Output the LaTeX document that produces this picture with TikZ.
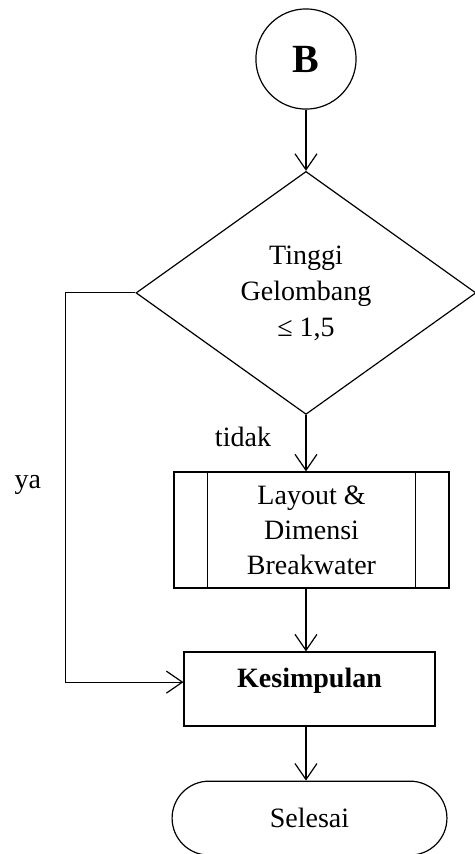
\documentclass[tikz,border=0pt]{standalone}
\usepackage{fontspec}
\setmainfont{Liberation Serif}
\usetikzlibrary{shapes.geometric,shapes.misc,arrows.meta}

\tikzset{
    flowline/.style={semithick, -{Straight Barb[length=8pt,width=11pt]}},
    blok/.style={draw, semithick, inner sep=0pt, align=center},
}

\begin{document}
\begin{tikzpicture}[font=\fontsize{14}{17.5}\selectfont]
        \useasboundingbox (0,0) rectangle (8.347,15.007);
        \node[blok, circle, minimum size=1.76cm, font=\fontsize{20}{24}\selectfont\bfseries] (conB) at (5.377,13.97) {B};
        \node[blok, diamond, minimum width=5.975cm, minimum height=4.27cm, font=\fontsize{14}{18}\selectfont] (cek) at (5.377,9.86) {Tinggi\\Gelombang\\≤ 1,5};
        \node[blok, minimum width=4.83cm, minimum height=2.04cm] (lay) at (5.474,5.694) {Layout \&\\Dimensi\\Breakwater};
        \draw[semithick] ([xshift=0.6cm]lay.north west) -- ([xshift=0.6cm]lay.south west);
        \draw[semithick] ([xshift=-0.6cm]lay.north east) -- ([xshift=-0.6cm]lay.south east);
        \node[blok, minimum width=4.41cm, minimum height=1.3cm, text depth=11.3pt, font=\fontsize{14}{17.5}\selectfont\bfseries] (concl) at (5.439,2.90) {Kesimpulan};
        \node[blok, rounded rectangle, minimum width=4.83cm, minimum height=1.3cm] (stop) at (5.439,0.63) {Selesai};

        \draw[flowline] (conB) -- (cek);
        \draw[flowline] (cek.south) -- (cek.south |- lay.north);
        \draw[flowline] (cek.south |- lay.south) -- (cek.south |- concl.north);
        \draw[flowline] (cek.south |- concl.south) -- (cek.south |- stop.north);
        \draw[flowline] (cek.west) -- ++(-1.23,0) |- ([yshift=0.12cm]concl.west);

        \node (ya) at (0.49,6.48) {ya};
        \node (tidak) at (4.27,7.33) {tidak};
    \end{tikzpicture}
\end{document}
